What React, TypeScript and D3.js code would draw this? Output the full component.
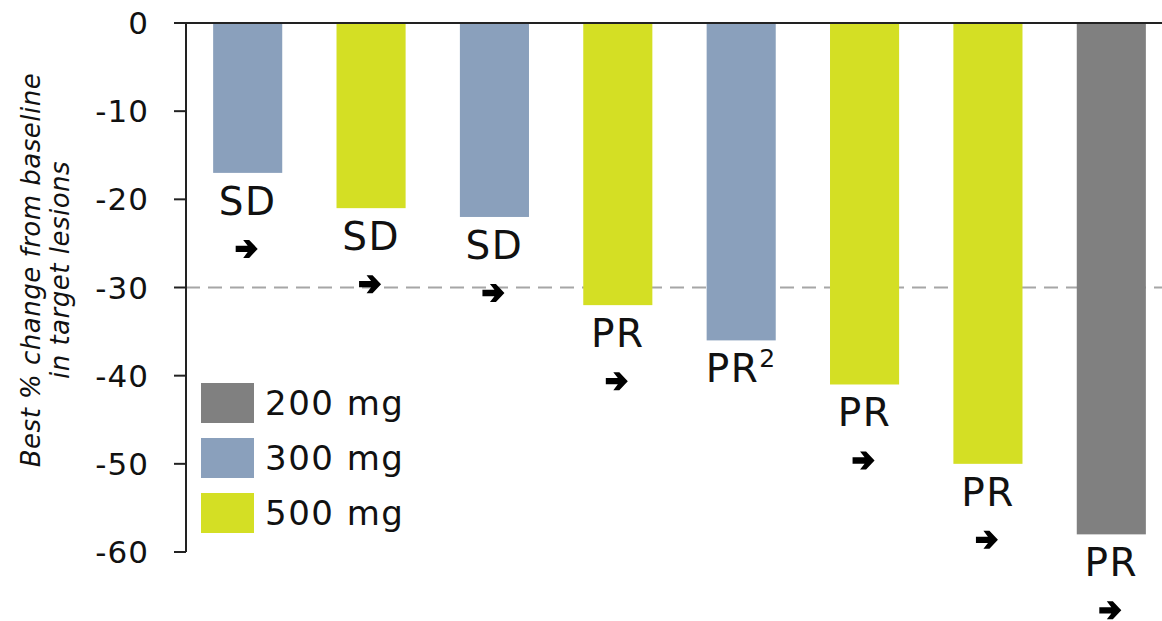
import React from "react";
import * as d3 from "d3";

const patients = ["P1", "P2", "P3", "P4", "P5", "P6", "P7", "P8"];
const changes = [-17, -21, -22, -32, -36, -41, -50, -58];
const doses = ["300 mg", "500 mg", "300 mg", "500 mg", "300 mg", "500 mg", "500 mg", "200 mg"];
const responses = ["SD", "SD", "SD", "PR", "PR", "PR", "PR", "PR"];
const superscripts = ["", "", "", "", "2", "", "", ""];
const ongoing = [true, true, true, true, false, true, true, true];
const yTicks = [0, -10, -20, -30, -40, -50, -60];
const legendDoses = ["200 mg", "300 mg", "500 mg"];
const doseColors = ["#808080", "#8aa0bc", "#d4df24"];
const threshold = -30;

const W = 1162;
const H = 621;
const FONT = "'DejaVu Sans', sans-serif";

export default function App() {
  const x = d3.scaleBand<string>().domain(patients).range([186, 1173]).paddingInner(0.44).paddingOuter(0.22);
  const y = d3.scaleLinear().domain([0, -60]).range([23, 552]);
  const color = d3.scaleOrdinal<string, string>().domain(legendDoses).range(doseColors);
  const arrowPath = "M-11,-3.2 L1,-3.2 L-3.5,-9 L2.5,-9 L11,0 L2.5,9 L-3.5,9 L1,3.2 L-11,3.2 Z";

  return (
    <svg width={W} height={H} style={{ position: "absolute", left: 0, top: 0, background: "#fff" }}>
      <line x1={186} x2={1172} y1={y(threshold)} y2={y(threshold)} stroke="#a6a6a6" strokeWidth={2} strokeDasharray="14 8" />
      {patients.map((p, i) => (
        <rect key={p} x={x(p)} y={y(0)} width={x.bandwidth()} height={y(changes[i]) - y(0)} fill={color(doses[i])} />
      ))}
      {patients.map((p, i) => {
        const cx = (x(p) as number) + x.bandwidth() / 2;
        const by = y(changes[i]);
        return (
          <g key={"l" + p}>
            <text x={cx} y={by + 42} textAnchor="middle" fontFamily={FONT} fontSize={39} letterSpacing={1.5} fill="#111">
              {responses[i]}
              {superscripts[i] && (
                <tspan fontSize={25} dy={-15}>{superscripts[i]}</tspan>
              )}
            </text>
            {ongoing[i] && <path d={arrowPath} transform={`translate(${cx - 1},${by + 76})`} fill="#000" />}
          </g>
        );
      })}
      <line x1={174} x2={1172} y1={y(0)} y2={y(0)} stroke="#222" strokeWidth={2} />
      <line x1={186} x2={186} y1={y(0)} y2={y(-60)} stroke="#222" strokeWidth={2} />
      {yTicks.map((t) => (
        <g key={"t" + t}>
          <line x1={174} x2={186} y1={y(t)} y2={y(t)} stroke="#222" strokeWidth={2} />
          <text x={149} y={y(t)} dy="0.36em" textAnchor="end" fontFamily={FONT} fontSize={31} letterSpacing={1} fill="#111">
            {t}
          </text>
        </g>
      ))}
      <g transform="translate(44,270) rotate(-90)">
        <text textAnchor="middle" fontFamily={FONT} fontStyle="italic" fontSize={26} letterSpacing={0.5} fill="#111">
          <tspan x={0} y={-4}>Best % change from baseline</tspan>
          <tspan x={0} y={25}>in target lesions</tspan>
        </text>
      </g>
      {legendDoses.map((d, i) => (
        <g key={d} transform={`translate(201,${383 + i * 55})`}>
          <rect width={53} height={40} fill={color(d)} />
          <text x={64} y={20} dy="0.36em" fontFamily={FONT} fontSize={34} letterSpacing={1.5} fill="#111">
            {d}
          </text>
        </g>
      ))}
    </svg>
  );
}
